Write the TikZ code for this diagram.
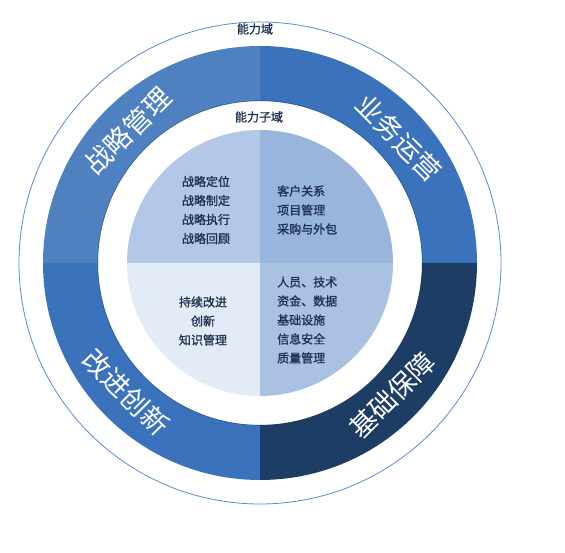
\documentclass[tikz,border=0pt]{standalone}
\usepackage{fontspec}
\setmainfont{Noto Sans CJK SC}
\newfontfamily\cjk{Noto Sans CJK SC}
\newfontfamily\cjkbold[FakeBold=1.2]{Noto Sans CJK SC}
\usetikzlibrary{calc, positioning}
\definecolor{ringlight}{RGB}{79, 129, 193}
\definecolor{ringmid}{RGB}{59, 114, 188}
\definecolor{ringdark}{RGB}{30, 61, 100}
\definecolor{subtl}{RGB}{178, 200, 230}
\definecolor{subtr}{RGB}{153, 181, 219}
\definecolor{subbl}{RGB}{227, 235, 246}
\definecolor{subbr}{RGB}{169, 194, 228}
\definecolor{outline}{RGB}{91, 139, 203}
\definecolor{textdark}{RGB}{31, 48, 80}

\begin{document}
\begin{tikzpicture}[
    x=1pt, y=1pt,
    ringlabel/.style={text=white, font=\cjk\fontsize{27}{30}\selectfont, inner sep=0pt},
    domainlabel/.style={text=textdark, font=\cjkbold\fontsize{12}{14}\selectfont, inner sep=0pt},
    sublabel/.style={text=textdark, font=\cjkbold\fontsize{12}{19}\selectfont, inner sep=0pt}
]
\useasboundingbox (0,0) rectangle (565,553);
\coordinate (c) at (260,290);

% Outer circle
\draw[outline, line width=0.8pt] (c) circle[radius=241];

% Capability domains (ring)
\fill[ringmid] ($(c)+(0:217)$) arc[start angle=0, end angle=90, radius=217]
    -- ($(c)+(90:162)$) arc[start angle=90, end angle=0, radius=162] -- cycle;
\fill[ringlight] ($(c)+(90:217)$) arc[start angle=90, end angle=180, radius=217]
    -- ($(c)+(180:162)$) arc[start angle=180, end angle=90, radius=162] -- cycle;
\fill[ringmid] ($(c)+(180:217)$) arc[start angle=180, end angle=270, radius=217]
    -- ($(c)+(270:162)$) arc[start angle=270, end angle=180, radius=162] -- cycle;
\fill[ringdark] ($(c)+(270:217)$) arc[start angle=270, end angle=360, radius=217]
    -- ($(c)+(360:162)$) arc[start angle=360, end angle=270, radius=162] -- cycle;
\draw[ringdark, opacity=0.45, line width=0.7pt] (c) circle[radius=162.3];

% Sub-domains (pie)
\fill[subtr] (c) -- ++(0:133) arc[start angle=0, end angle=90, radius=133] -- cycle;
\fill[subtl] (c) -- ++(90:133) arc[start angle=90, end angle=180, radius=133] -- cycle;
\fill[subbl] (c) -- ++(180:133) arc[start angle=180, end angle=270, radius=133] -- cycle;
\fill[subbr] (c) -- ++(270:133) arc[start angle=270, end angle=360, radius=133] -- cycle;

% Titles
\node[domainlabel] (domain) at (255,524) {能力域};
\node[domainlabel] (subdomain) at (259,436) {能力子域};

% Ring labels
\node[ringlabel, rotate=45] (strategy) at ($(c)+(135:187)$) {战略管理};
\node[ringlabel, rotate=-45] (business) at ($(c)+(42:187)$) {业务运营};
\node[ringlabel, rotate=-45] (improve) at ($(c)+(224:186)$) {改进创新};
\node[ringlabel, rotate=45] (support) at ($(c)+(315:187)$) {基础保障};

% Sub-domain lists
\node[sublabel, align=center] (strategylist) at (206,343) {战略定位\\战略制定\\战略执行\\战略回顾};
\node[sublabel, align=left, anchor=west] (businesslist) at (277,343) {客户关系\\项目管理\\采购与外包};
\node[sublabel, align=center] (improvelist) at (203,232) {持续改进\\创新\\知识管理};
\node[sublabel, align=left, anchor=west] (supportlist) at (277,233) {人员、技术\\资金、数据\\基础设施\\信息安全\\质量管理};

\end{tikzpicture}
\end{document}
